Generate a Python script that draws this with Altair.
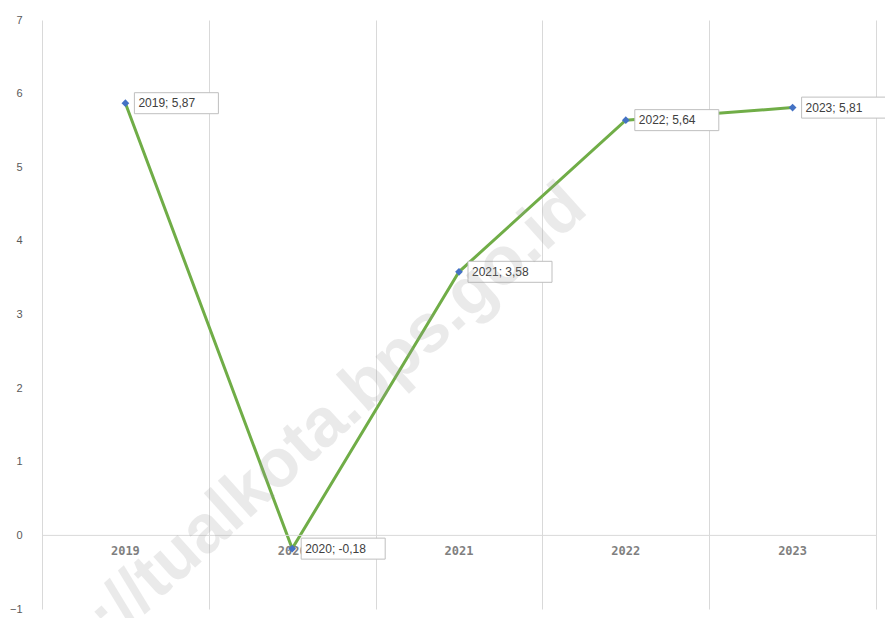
import altair as alt
import pandas as pd

years = ["2019", "2020", "2021", "2022", "2023"]
values = [5.87, -0.18, 3.58, 5.64, 5.81]
y_ticks = [-1, 0, 1, 2, 3, 4, 5, 6, 7]
grid_positions = [-0.5, 0.5, 1.5, 2.5, 3.5, 4.5]
watermark = "http://tualkota.bps.go.id"

df = pd.DataFrame({
    "i": list(range(len(years))),
    "year": years,
    "value": values,
})
df["label"] = [f"{y}; {v:.2f}".replace(".", ",") for y, v in zip(years, values)]

W, H = 834, 589
FONT = "Liberation Sans"

xs = alt.Scale(domain=[-0.5, 4.5], nice=False, zero=False)
ys = alt.Scale(domain=[-1, 7], nice=False, zero=False)

base = alt.Chart(df)

x_enc = alt.X("i:Q", scale=xs, axis=alt.Axis(
    values=grid_positions, labels=False, ticks=False, domain=False, title=None,
    grid=True, gridColor="#d9d9d9", gridWidth=1))
y_enc = alt.Y("value:Q", scale=ys, axis=alt.Axis(
    values=y_ticks, format="d", grid=False, ticks=False, domain=False, title=None,
    labelPadding=20, labelColor="#595959", labelFontSize=11, labelFont=FONT))

xq = alt.X("i:Q", scale=xs)
yq = alt.Y("value:Q", scale=ys)

zero = alt.Chart(pd.DataFrame({"z": [0]})).mark_rule(color="#d9d9d9", strokeWidth=1).encode(
    y=alt.Y("z:Q", scale=ys))

cat = base.mark_text(fontSize=12, font="DejaVu Sans Mono", fontWeight="bold",
                     color="#7f7f7f", dy=16, baseline="middle").encode(
    x=xq, y=alt.datum(0), text="year:N")

line = base.mark_line(color="#70AD47", strokeWidth=3).encode(x=x_enc, y=y_enc)
pts = base.mark_point(shape="diamond", filled=True, color="#4472C4", size=60, opacity=1).encode(
    x=xq, y=yq)

boxes = base.mark_rect(width=84, height=21, xOffset=51, fill="white",
                       stroke="#bfbfbf", strokeWidth=1).encode(x=xq, y=yq)
labels = base.mark_text(align="left", baseline="middle", dx=13, fontSize=12,
                        font=FONT, color="#404040").encode(x=xq, y=yq, text="label:N")

wm = alt.Chart(pd.DataFrame({"t": [watermark]})).mark_text(
    fontSize=68, font="Liberation Sans", fontWeight="bold", angle=318,
    color="#9a9a9a", opacity=0.2, align="center", baseline="middle").encode(
    text="t:N", x=alt.value(248), y=alt.value(435))

chart = alt.layer(line, zero, cat, pts, boxes, labels, wm).properties(
    width=W, height=H,
    background="white",
    autosize=alt.AutoSizeParams(type="none"),
    padding={"left": 34, "top": 12, "right": 9, "bottom": 9},
).configure_view(stroke=None, strokeWidth=0)

chart.save("out.html", embed_options={"renderer": "svg", "actions": False})
